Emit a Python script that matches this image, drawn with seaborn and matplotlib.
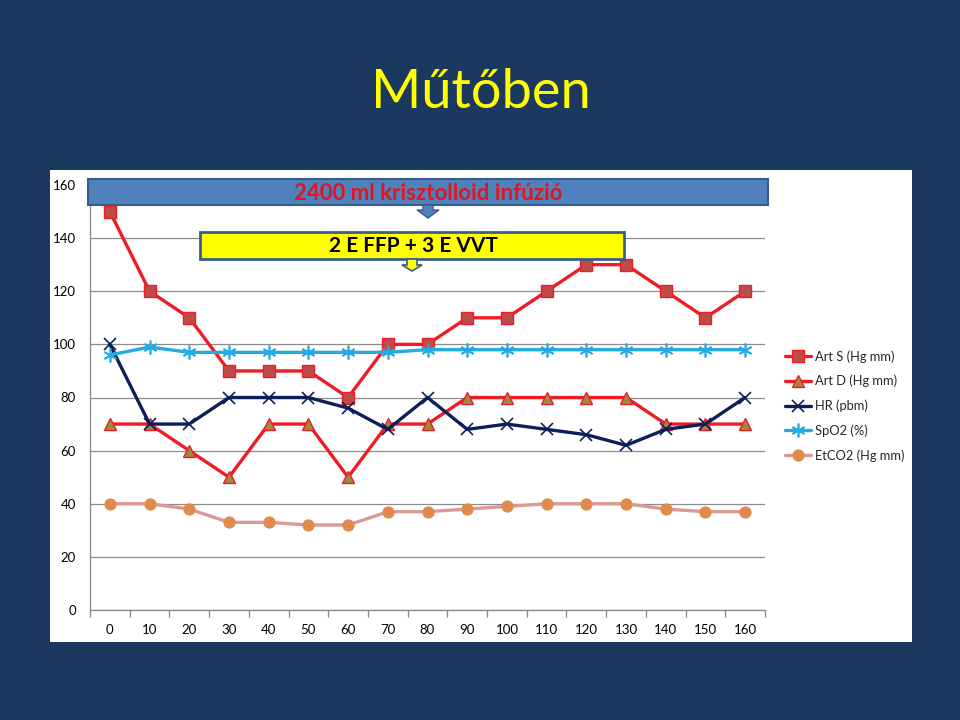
import numpy as np
import pandas as pd
import matplotlib
matplotlib.use("Agg")
import matplotlib.pyplot as plt
import seaborn as sns
from matplotlib.patches import Rectangle, Polygon
from matplotlib.lines import Line2D

# ---------------- data ----------------
minutes = [0, 10, 20, 30, 40, 50, 60, 70, 80, 90, 100, 110, 120, 130, 140, 150, 160]
art_s = [150, 120, 110, 90, 90, 90, 80, 100, 100, 110, 110, 120, 130, 130, 120, 110, 120]
art_d = [70, 70, 60, 50, 70, 70, 50, 70, 70, 80, 80, 80, 80, 80, 70, 70, 70]
hr = [100, 70, 70, 80, 80, 80, 76, 68, 80, 68, 70, 68, 66, 62, 68, 70, 80]
spo2 = [96, 99, 97, 97, 97, 97, 97, 97, 98, 98, 98, 98, 98, 98, 98, 98, 98]
etco2 = [40, 40, 38, 33, 33, 32, 32, 37, 37, 38, 39, 40, 40, 40, 38, 37, 37]
series_names = ["Art S (Hg mm)", "Art D (Hg mm)", "HR (pbm)", "SpO2 (%)", "EtCO2 (Hg mm)"]
y_ticks = [0, 20, 40, 60, 80, 100, 120, 140, 160]
title = "Műtőben"
note_blue = "2400 ml krisztolloid infúzió"
note_yellow = "2 E FFP + 3 E VVT"

df = pd.DataFrame({
    "perc": minutes * 5,
    "ertek": art_s + art_d + hr + spo2 + etco2,
    "sorozat": sum([[n] * len(minutes) for n in series_names], []),
})

# ---------------- style ----------------
sns.set_theme(style="white")
plt.rcParams["font.family"] = ["Lato", "DejaVu Sans"]

BG = "#1B385E"
fig = plt.figure(figsize=(9.6, 7.2), dpi=100, facecolor=BG)
W, H = 960, 720

# white chart area
fig.add_artist(Rectangle((50 / W, 1 - 642 / H), 862 / W, 472 / H,
                         transform=fig.transFigure, facecolor="white",
                         edgecolor="none", zorder=0))

ax = fig.add_axes([90 / W, 110 / H, 675 / W, 425 / H])
ax.set_facecolor("white")

styles = {
    "Art S (Hg mm)": dict(color="#EE1C25", marker="s", markersize=8.5,
                          markerfacecolor="#BE4B48", markeredgecolor="#EE1C25",
                          markeredgewidth=1.0),
    "Art D (Hg mm)": dict(color="#EE1C25", marker="^", markersize=9,
                          markerfacecolor="#9C8A3E", markeredgecolor="#EE1C25",
                          markeredgewidth=1.0),
    "HR (pbm)": dict(color="#0C1F5A", marker="x", markersize=8,
                     markerfacecolor="#0C1F5A", markeredgecolor="#0C1F5A",
                     markeredgewidth=1.2),
    "SpO2 (%)": dict(color="#25AAE2", marker=(6, 2, 0), markersize=10,
                     markerfacecolor="#25AAE2", markeredgecolor="#25AAE2",
                     markeredgewidth=1.2),
    "EtCO2 (Hg mm)": dict(color="#D99A98", marker="o", markersize=8,
                          markerfacecolor="#E08B4C", markeredgecolor="#E08B4C",
                          markeredgewidth=0.8),
}

for name in series_names:
    sub = df[df["sorozat"] == name]
    sns.lineplot(data=sub, x="perc", y="ertek", ax=ax, linewidth=2.4,
                 label=name, legend=False, zorder=3, **styles[name])

ax.set_xlim(-5, 165)
ax.set_ylim(0, 160)
ax.set_xticks(minutes)
ax.set_xticklabels([str(m) for m in minutes])
ax.set_xticks(np.arange(-5, 166, 10), minor=True)
ax.set_yticks(y_ticks)
ax.set_yticklabels([str(v) for v in y_ticks])
ax.set_xlabel("")
ax.set_ylabel("")
ax.yaxis.grid(True, color="#8C8C8C", linewidth=0.9)
ax.xaxis.grid(False)
for s in ["top", "right"]:
    ax.spines[s].set_visible(False)
for s in ["left", "bottom"]:
    ax.spines[s].set_color("#868686")
    ax.spines[s].set_linewidth(0.9)
ax.tick_params(axis="x", which="major", length=0, pad=10, labelsize=9.5, labelcolor="black")
ax.tick_params(axis="x", which="minor", length=5, width=0.9, color="#868686", direction="out", bottom=True)
ax.tick_params(axis="y", length=0, pad=10, labelsize=9.5, labelcolor="black")

# legend
handles = [Line2D([0], [0], linewidth=2.4, **styles[n]) for n in series_names]
fig.legend(handles, series_names, loc="upper left",
           bbox_to_anchor=(785 / W, 1 - 350 / H), bbox_transform=fig.transFigure,
           frameon=False, fontsize=9.3, handlelength=2.0, handletextpad=0.3,
           labelspacing=0.95, borderpad=0, borderaxespad=0)

# title
fig.text(481 / W, 1 - 92 / H, title, color="#FFFF00", fontsize=39,
         ha="center", va="center")

# blue annotation box + arrow
fig.add_artist(Rectangle((88 / W, 1 - 205 / H), 680 / W, 26 / H,
                         transform=fig.transFigure, facecolor="#4F81BD",
                         edgecolor="#385D8A", linewidth=1.5, zorder=5))
fig.text(428 / W, 1 - 193 / H, note_blue, color="#E3141E", fontsize=16,
         fontweight="bold", ha="center", va="center", zorder=6)
bx, by = 428, 205
fig.add_artist(Polygon([((bx - 5) / W, 1 - by / H), ((bx + 5) / W, 1 - by / H),
                        ((bx + 5) / W, 1 - (by + 5) / H), ((bx + 11) / W, 1 - (by + 5) / H),
                        (bx / W, 1 - (by + 13) / H), ((bx - 11) / W, 1 - (by + 5) / H),
                        ((bx - 5) / W, 1 - (by + 5) / H)],
                       closed=True, transform=fig.transFigure, facecolor="#4F81BD",
                       edgecolor="#385D8A", linewidth=1.0, zorder=5))

# yellow annotation box + arrow
fig.add_artist(Rectangle((200 / W, 1 - 259 / H), 424 / W, 27 / H,
                         transform=fig.transFigure, facecolor="#FFFF00",
                         edgecolor="#385D8A", linewidth=2.0, zorder=5))
fig.text(413 / W, 1 - 246 / H, note_yellow, color="black", fontsize=15,
         fontweight="bold", ha="center", va="center", zorder=6)
yx, yy = 412, 259
fig.add_artist(Polygon([((yx - 5) / W, 1 - yy / H), ((yx + 5) / W, 1 - yy / H),
                        ((yx + 5) / W, 1 - (yy + 6) / H), ((yx + 10) / W, 1 - (yy + 6) / H),
                        (yx / W, 1 - (yy + 12) / H), ((yx - 10) / W, 1 - (yy + 6) / H),
                        ((yx - 5) / W, 1 - (yy + 6) / H)],
                       closed=True, transform=fig.transFigure, facecolor="#FFFF00",
                       edgecolor="#385D8A", linewidth=1.2, zorder=6))

fig.savefig("out.png", dpi=100, facecolor=BG)
